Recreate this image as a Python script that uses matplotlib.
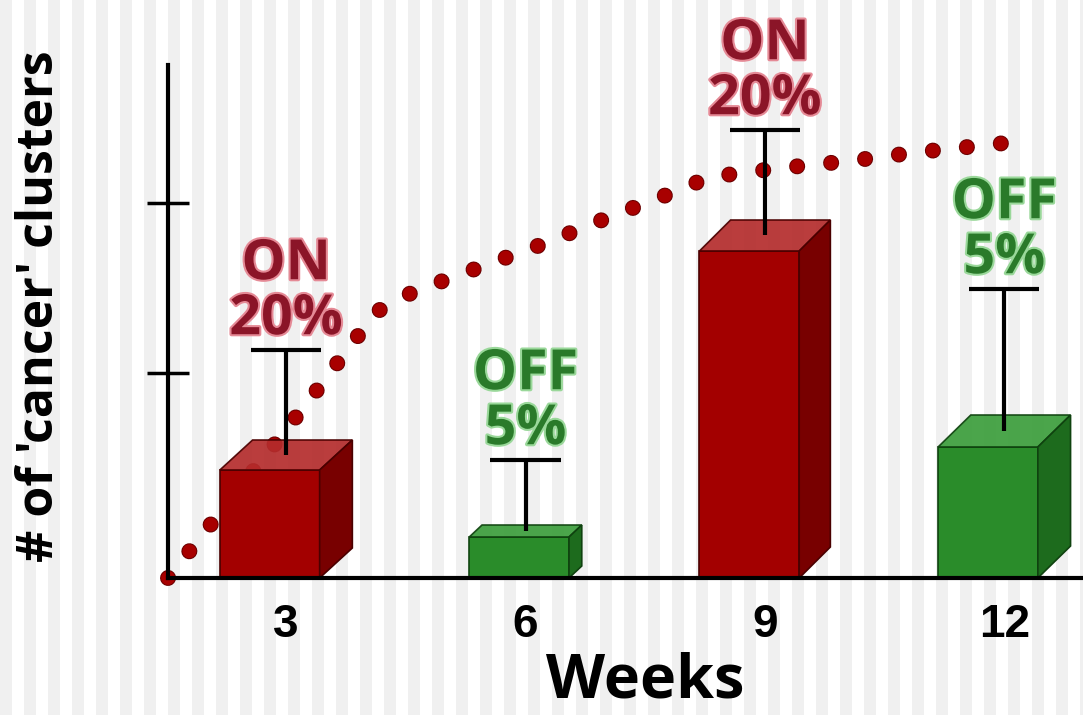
import matplotlib
matplotlib.use("Agg")
import matplotlib.pyplot as plt
from matplotlib.patches import Polygon
import matplotlib.patheffects as pe

# data (y in arbitrary units)
weeks = [3, 6, 9, 12]
heights = [1.08, 0.41, 3.27, 1.31]
errors = [1.20, 0.77, 1.21, 1.58]
labels = ["ON\n20%", "OFF\n5%", "ON\n20%", "OFF\n5%"]
states = ["on", "off", "on", "off"]

curve_x = [1.52, 1.78, 2.05, 2.82, 3.35, 3.87, 4.15, 4.59, 5.40, 6.22,
           7.02, 7.83, 8.31, 9.20, 10.06, 10.93, 11.79, 12.22]
curve_y = [0.0, 0.26, 0.53, 1.30, 1.84, 2.39, 2.67, 2.86, 3.10, 3.34,
           3.60, 3.85, 4.01, 4.10, 4.17, 4.26, 4.33, 4.37]

y_ticks = [2.05, 3.75]

# box look
bar_w = 1.25
depth_x = [0.41, 0.16, 0.39, 0.41]
depth_y = [0.30, 0.12, 0.31, 0.32]
colors = {
    "on": dict(front="#a30000", top="#b42c2c", side="#780000", edge="#4a0000",
               text="#8b1528", glow="#e58a96"),
    "off": dict(front="#2a8c2a", top="#3c9e3c", side="#1d6b1d", edge="#0f420f",
                text="#2a7a2a", glow="#9ad89a"),
}

fig = plt.figure(figsize=(10.83, 7.15), dpi=100)

# striped slide background
bg = fig.add_axes([0, 0, 1, 1])
bg.set_xlim(0, 1083)
bg.set_ylim(0, 715)
bg.set_facecolor("#f7f7f7")
for x in range(0, 1083, 24):
    bg.axvspan(x, x + 12, color="#f0f0f0", lw=0)
bg.axis("off")

ax = fig.add_axes([168 / 1083, 137 / 715, 915 / 1083, 513 / 715])
ax.patch.set_visible(False)
ax.set_xlim(1.52, 12.986)
ax.set_ylim(0, 5.13)

# dotted trend
ax.plot(curve_x, curve_y, color="#a80000", lw=10, linestyle=(0, (0.01, 2.45)),
        dash_capstyle="round", zorder=2, clip_on=False,
        path_effects=[pe.Stroke(linewidth=11.5, foreground="#6a0000"), pe.Normal()])

for i, w in enumerate(weeks):
    c = colors[states[i]]
    h, dx, dy = heights[i], depth_x[i], depth_y[i]
    x0 = w - (bar_w + dx) / 2
    front = Polygon([(x0, 0), (x0 + bar_w, 0), (x0 + bar_w, h), (x0, h)],
                    fc=c["front"], ec=c["edge"], lw=1.2, zorder=3)
    top = Polygon([(x0, h), (x0 + bar_w, h), (x0 + bar_w + dx, h + dy), (x0 + dx, h + dy)],
                  fc=c["top"], ec=c["edge"], lw=1.2, alpha=0.92, zorder=3)
    side = Polygon([(x0 + bar_w, 0), (x0 + bar_w + dx, dy), (x0 + bar_w + dx, h + dy), (x0 + bar_w, h)],
                   fc=c["side"], ec=c["edge"], lw=1.2, zorder=3)
    for p in (front, top, side):
        ax.add_patch(p)

    # upper error bar only
    top_val = h + errors[i]
    ax.vlines(w, h + dy / 2, top_val, color="black", lw=3, zorder=4)
    ax.hlines(top_val, w - 0.44, w + 0.44, color="black", lw=3, zorder=4)

    ax.annotate(labels[i], xy=(w, top_val), xytext=(0, 2), textcoords="offset points",
                ha="center", va="bottom", fontsize=40, fontweight="bold",
                family="Open Sans", color=c["text"], linespacing=1.0,
                annotation_clip=False, zorder=5,
                path_effects=[pe.withStroke(linewidth=3, foreground=c["glow"])])

for s in ("top", "right"):
    ax.spines[s].set_visible(False)
ax.spines["left"].set_linewidth(3)
ax.spines["bottom"].set_linewidth(3)
ax.spines["bottom"].set_zorder(6)

ax.set_yticks(y_ticks)
ax.set_yticklabels([])
ax.tick_params(axis="y", direction="inout", length=30, width=2.5)
ax.set_xticks(weeks)
ax.set_xticklabels([str(w) for w in weeks], fontsize=33, fontweight="bold",
                   family="Liberation Sans")
ax.tick_params(axis="x", length=0, pad=18)

fig.text(645 / 1083, 2 / 715, "Weeks", ha="center", va="bottom", fontsize=44,
         fontweight="bold", family="Open Sans")
fig.text(40 / 1083, 0.572, "# of 'cancer' clusters", rotation=90, ha="center", va="center",
         fontsize=36, fontweight="bold", family="Open Sans")

fig.savefig("out.png", dpi=100)
